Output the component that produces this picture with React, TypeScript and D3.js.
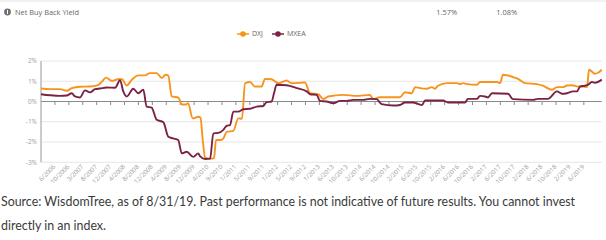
import React from "react";
import * as d3 from "d3";

// Axis period labels (one per tick on the category axis)
const periodLabels = [
  "6/2006", "10/2006", "3/2007", "8/2007", "12/2007", "4/2008", "8/2008", "12/2008",
  "4/2009", "8/2009", "12/2009", "4/2010", "9/2010", "1/2011", "5/2011", "9/2011",
  "1/2012", "5/2012", "9/2012", "1/2013", "6/2013", "10/2013", "2/2014", "6/2014",
  "10/2014", "2/2015", "6/2015", "10/2015", "2/2016", "6/2016", "10/2016", "2/2017",
  "6/2017", "10/2017", "2/2018", "6/2018", "10/2018", "2/2019", "6/2019",
];

// Positions are in label-period units (label i sits at position i)
const dxjPos = [
  -1.0, -0.35, 0.36, 0.85, 1.21, 1.8, 2.52, 3.09, 3.38, 3.67, 4.1, 4.53, 4.82, 5.16, 5.52,
  5.99, 6.47, 6.83, 7.31, 7.67, 7.96, 8.15, 8.39, 8.86, 9.13, 9.42, 9.56, 9.9, 10.3, 10.46,
  10.62, 10.79, 11.15, 11.43, 11.57, 11.93, 12.1, 12.34, 12.82, 13.17, 13.44, 13.66, 14.02,
  14.37, 14.85, 15.09, 15.57, 16.05, 16.65, 17.01, 17.97, 18.33, 18.92, 19.28, 19.64, 20.72,
  21.68, 22.63, 22.87, 23.35, 24.79, 25.15, 25.65, 25.87, 26.23, 26.73, 27.09, 27.3, 27.52,
  28.17, 28.89, 29.1, 29.32, 29.6, 30.32, 30.54, 31.76, 31.98, 32.19, 32.91, 33.27, 33.77,
  34.63, 35.06, 35.71, 36.07, 36.5, 36.79, 37.15, 37.58, 37.94, 38.23, 38.37, 38.8, 39.02, 39.29,
];
const dxjYield = [
  0.64, 0.61, 0.61, 0.53, 0.66, 0.73, 0.74, 0.81, 0.98, 1.18, 1.02, 1.1, 1.1, 0.79, 1.07,
  1.29, 1.29, 1.4, 1.4, 1.16, 1.32, 1.27, 0.25, 0.2, -0.15, -0.15, -0.08, -0.83, -0.75, -0.8,
  -1.9, -2.75, -2.82, -2.8, -1.9, -1.9, -1.82, -1.5, -1.45, -0.83, -0.85, 0.9, 0.96,
  0.74, 0.74, 1.12, 1.1, 0.9, 1.04, 0.9, 0.94, 0.41, 0.36, 0.12, 0.25, 0.33,
  0.28, 0.33, 0.12, 0.21, 0.21, 0.46, 0.41, 0.71, 0.66, 0.63, 0.71, 0.63, 0.78,
  0.91, 0.91, 0.86, 0.91, 0.86, 0.83, 0.96, 0.96, 0.91, 1.32, 1.21, 1.12, 0.91,
  0.86, 0.78, 0.58, 0.71, 0.71, 0.79, 0.8, 0.74, 0.74, 0.71, 1.57, 1.37, 1.42, 1.57,
];

const mxeaPos = [
  -1.0, -0.35, 0.36, 0.85, 1.21, 1.44, 1.8, 2.16, 2.52, 2.88, 3.24, 3.72, 4.32, 4.68, 4.91,
  5.16, 5.63, 5.99, 6.35, 6.59, 6.95, 7.31, 7.79, 8.15, 8.5, 8.86, 9.11, 9.47, 9.94, 10.3,
  10.42, 10.79, 11.15, 11.38, 11.74, 12.1, 12.34, 12.58, 12.82, 13.17, 13.53, 14.02, 14.5,
  14.97, 15.21, 15.57, 15.74, 15.93, 16.65, 17.37, 18.09, 18.33, 18.81, 19.04, 19.52, 20.0,
  20.48, 20.96, 21.44, 22.15, 22.63, 23.11, 23.47, 24.31, 24.79, 25.15, 25.72, 26.08, 26.37,
  26.59, 27.88, 28.24, 29.46, 29.67, 30.32, 30.54, 30.9, 31.11, 31.4, 32.55, 32.91, 34.35,
  34.7, 35.42, 36.07, 36.43, 36.79, 37.22, 37.51, 37.73, 38.08, 38.3, 38.58, 38.8, 39.29,
];
const mxeaYield = [
  0.36, 0.31, 0.28, 0.3, 0.41, 0.25, 0.2, 0.55, 0.45, 0.61, 0.64, 0.69, 0.68, 1.05, 0.5,
  0.25, 0.63, 0.41, 0.58, -0.25, -0.3, -0.9, -1.02, -1.74, -1.82, -1.9, -2.56, -2.48, -2.73, -2.56,
  -2.7, -2.84, -2.82, -1.57, -1.55, -1.4, -1.2, -1.16, -0.5, -0.5, -0.38, -0.36, -0.25,
  -0.22, -0.03, 0.0, 0.41, 0.83, 0.8, 0.66, 0.5, 0.36, 0.33, 0.03, 0.0, -0.08,
  0.03, 0.03, 0.08, 0.08, 0.13, 0.12, -0.13, -0.2, -0.17, -0.05, -0.05, -0.12, -0.18,
  0.05, 0.05, -0.05, -0.05, 0.13, 0.13, 0.28, 0.25, 0.2, 0.41, 0.38, 0.12, 0.08,
  0.13, 0.13, 0.5, 0.38, 0.41, 0.5, 0.5, 0.74, 0.78, 0.83, 0.96, 0.93, 1.08,
];

const yTicks = [2, 1, 0, -1, -2, -3];
const seriesNames = ["DXJ", "MXEA"];
const latestYield = ["1.57%", "1.08%"];

const ORANGE = "#F7941E";
const MAROON = "#7A2246";
const W = 606;
const H = 240;
const uiFont = "'Open Sans', 'DejaVu Sans', sans-serif";

export default function App() {
  const x = d3.scaleLinear().domain([-1, 39.29]).range([41, 601.8]);
  const y = d3.scaleLinear().domain([-3, 2]).range([162.3, 61]);

  const line = d3
    .line<[number, number]>()
    .x((d) => x(d[0]))
    .y((d) => y(d[1]))
    .curve(d3.curveMonotoneX);

  const dxj = dxjPos.map((p, i) => [p, dxjYield[i]] as [number, number]);
  const mxea = mxeaPos.map((p, i) => [p, mxeaYield[i]] as [number, number]);

  const x0 = x.range()[0];
  const x1 = x.range()[1];

  return (
    <svg
      width={W}
      height={H}
      viewBox={`0 0 ${W} ${H}`}
      style={{ position: "absolute", left: 0, top: 0, background: "#fff" }}
    >
      {/* header row */}
      <line x1={0} x2={W} y1={1} y2={1} stroke="#e3e3e3" strokeWidth={1} />
      <circle cx={7.5} cy={12} r={3.4} fill="#6f6f6f" />
      <rect x={7} y={10} width={1} height={4} fill="#fff" />
      <text x={15} y={14.5} fontFamily={uiFont} fontSize={7.4} fill="#666">
        Net Buy Back Yield
      </text>
      <text x={457} y={14.5} fontFamily={uiFont} fontSize={7.4} fill="#666" textAnchor="end">
        {latestYield[0]}
      </text>
      <text x={517} y={14.5} fontFamily={uiFont} fontSize={7.4} fill="#666" textAnchor="end">
        {latestYield[1]}
      </text>

      {/* legend */}
      {seriesNames.map((name, i) => {
        const lx = i === 0 ? 237 : 272;
        const c = i === 0 ? ORANGE : MAROON;
        return (
          <g key={name}>
            <line x1={lx} x2={lx + 12} y1={34} y2={34} stroke={c} strokeWidth={1.5} />
            <circle cx={lx + 6} cy={34} r={2.8} fill={c} />
            <text x={lx + 15} y={36.4} fontFamily={uiFont} fontSize={7} fill="#666">
              {name}
            </text>
          </g>
        );
      })}

      {/* grid */}
      {yTicks.map((t) => (
        <g key={t}>
          <line
            x1={x0}
            x2={x1}
            y1={y(t)}
            y2={y(t)}
            stroke={t === 0 ? "#8a8a8a" : "#e6e6e6"}
            strokeWidth={1}
          />
          <text
            x={37}
            y={y(t) + 2.3}
            textAnchor="end"
            fontFamily={uiFont}
            fontSize={6.5}
            fill="#a0a0a0"
          >
            {`${t}%`}
          </text>
        </g>
      ))}
      <line x1={x0} x2={x0} y1={y(2)} y2={y(-3)} stroke="#999" strokeWidth={1} />

      {/* ticks on the zero line */}
      {periodLabels.map((_, i) => (
        <line
          key={i}
          x1={x(i)}
          x2={x(i)}
          y1={y(0)}
          y2={y(0) + 3.5}
          stroke="#8a8a8a"
          strokeWidth={1}
        />
      ))}

      {/* period labels */}
      {periodLabels.map((lab, i) => (
        <text
          key={lab}
          transform={`translate(${x(i) + 1},${y(-3) + 5}) rotate(-45)`}
          textAnchor="end"
          fontFamily={uiFont}
          fontSize={6.3}
          fill="#a0a0a0"
        >
          {lab}
        </text>
      ))}

      {/* series */}
      <path d={line(dxj) ?? ""} fill="none" stroke={ORANGE} strokeWidth={1.9} strokeLinejoin="round" />
      <path d={line(mxea) ?? ""} fill="none" stroke={MAROON} strokeWidth={1.9} strokeLinejoin="round" />

      {/* source note */}
      <text x={1} y={206} fontFamily="Lato, sans-serif" fontSize={12.4} fill="#3a3a3a">
        Source: WisdomTree, as of 8/31/19. Past performance is not indicative of future results. You cannot invest
      </text>
      <text x={1} y={230} fontFamily="Lato, sans-serif" fontSize={12.4} fill="#3a3a3a">
        directly in an index.
      </text>
    </svg>
  );
}
